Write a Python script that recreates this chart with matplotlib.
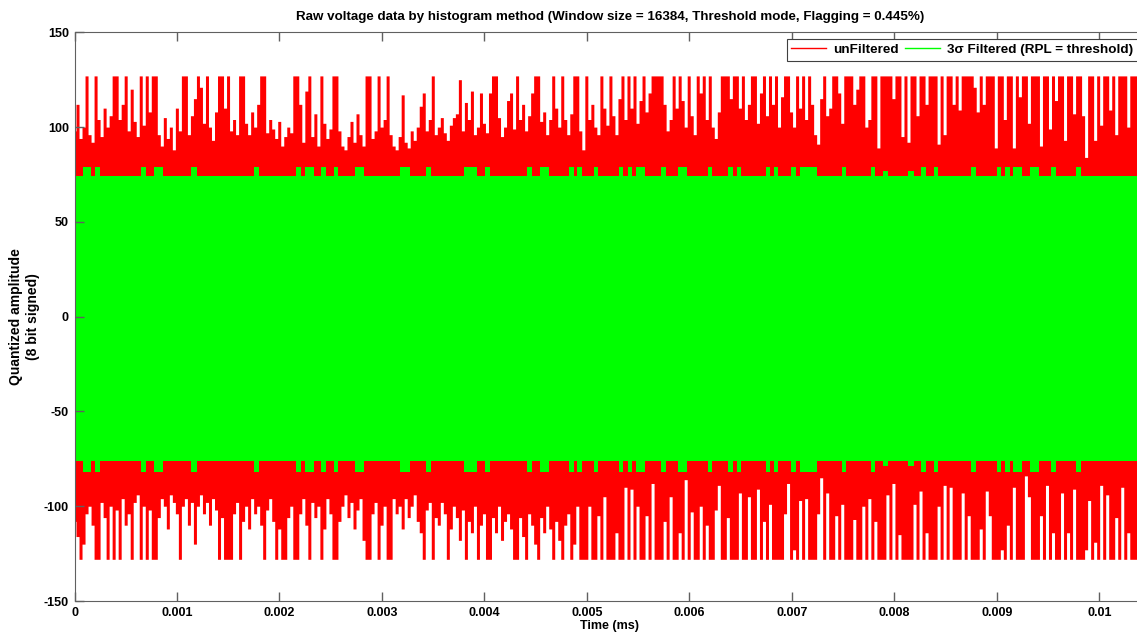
import numpy as np
import matplotlib.pyplot as plt
from matplotlib.lines import Line2D

plt.rcParams['font.family'] = ['Liberation Sans', 'DejaVu Sans']
plt.rcParams['font.weight'] = 'bold'
plt.rcParams['font.size'] = 9
plt.rcParams['axes.unicode_minus'] = False

# visible end of the record (ms)
T_END = 0.01037

# unfiltered samples: max / min of each ~3 px screen column
unf_max = [
    98, 112, 94, 100, 127, 96, 92, 127, 104, 95,
    110, 100, 106, 127, 127, 104, 112, 127, 98, 120,
    103, 95, 127, 101, 127, 108, 127, 127, 96, 90,
    105, 94, 100, 88, 110, 98, 127, 127, 96, 106,
    115, 127, 121, 102, 127, 100, 93, 108, 127, 127,
    110, 127, 98, 104, 96, 127, 127, 102, 96, 108,
    100, 112, 127, 127, 97, 104, 99, 94, 103, 90,
    95, 100, 97, 127, 127, 112, 92, 119, 127, 95,
    107, 90, 127, 102, 94, 99, 127, 127, 98, 90,
    88, 95, 103, 92, 107, 96, 90, 127, 127, 94,
    98, 127, 100, 104, 127, 96, 90, 88, 95, 117,
    92, 89, 98, 93, 100, 111, 118, 98, 104, 127,
    96, 100, 105, 97, 93, 101, 105, 107, 125, 98,
    113, 104, 119, 96, 100, 118, 102, 97, 118, 127,
    127, 105, 95, 100, 114, 118, 99, 127, 104, 112,
    98, 106, 118, 127, 127, 103, 108, 96, 104, 127,
    110, 100, 127, 104, 96, 107, 127, 127, 98, 88,
    127, 104, 112, 100, 96, 127, 110, 101, 127, 106,
    96, 115, 127, 104, 127, 110, 127, 102, 114, 127,
    108, 118, 127, 127, 127, 127, 112, 98, 104, 127,
    110, 127, 114, 100, 127, 106, 96, 127, 118, 127,
    104, 127, 100, 94, 108, 127, 127, 127, 115, 127,
    127, 110, 127, 104, 112, 127, 127, 102, 118, 127,
    106, 127, 112, 127, 100, 116, 127, 127, 108, 100,
    127, 110, 127, 104, 127, 112, 96, 91, 115, 127,
    106, 110, 127, 127, 118, 102, 127, 127, 127, 112,
    120, 127, 127, 100, 104, 127, 127, 89, 127, 127,
    127, 127, 115, 127, 127, 95, 127, 92, 127, 127,
    106, 127, 127, 112, 127, 127, 127, 91, 127, 96,
    127, 127, 112, 127, 109, 127, 127, 127, 127, 121,
    108, 127, 112, 127, 127, 127, 89, 127, 127, 104,
    127, 127, 89, 127, 116, 127, 127, 102, 127, 127,
    127, 90, 127, 127, 99, 127, 114, 127, 127, 93,
    127, 127, 107, 127, 127, 106, 84, 127, 127, 93,
    127, 101, 127, 127, 109, 127, 96, 127, 127, 127,
    100, 127, 127, 127,
]
unf_min = [
    -108, -116, -128, -120, -104, -100, -110, -128, -128, -98,
    -106, -128, -100, -128, -102, -128, -96, -110, -104, -128,
    -98, -94, -128, -100, -128, -102, -128, -128, -106, -96,
    -100, -112, -94, -98, -104, -128, -100, -96, -110, -98,
    -120, -100, -94, -104, -98, -110, -96, -102, -128, -106,
    -128, -128, -128, -104, -98, -128, -108, -100, -112, -96,
    -104, -100, -110, -128, -102, -96, -108, -128, -112, -128,
    -128, -106, -100, -128, -128, -104, -96, -110, -128, -98,
    -106, -100, -128, -112, -96, -104, -128, -128, -108, -100,
    -94, -106, -98, -112, -102, -96, -118, -128, -128, -104,
    -98, -128, -110, -100, -128, -128, -96, -104, -100, -112,
    -96, -106, -100, -94, -108, -114, -128, -102, -98, -128,
    -106, -110, -98, -104, -128, -112, -100, -106, -118, -102,
    -128, -108, -114, -100, -128, -110, -104, -128, -128, -106,
    -114, -100, -118, -108, -104, -112, -128, -128, -106, -116,
    -128, -104, -110, -120, -128, -106, -114, -100, -112, -128,
    -108, -118, -128, -110, -104, -128, -120, -100, -128, -128,
    -128, -100, -128, -128, -105, -128, -95, -128, -128, -128,
    -114, -128, -128, -90, -128, -91, -128, -100, -128, -128,
    -105, -128, -88, -128, -128, -128, -108, -128, -95, -128,
    -128, -114, -128, -86, -128, -103, -128, -128, -100, -128,
    -110, -128, -128, -102, -89, -128, -128, -106, -128, -128,
    -128, -93, -128, -128, -95, -128, -128, -91, -128, -108,
    -128, -99, -128, -128, -128, -128, -104, -88, -128, -123,
    -128, -97, -128, -96, -128, -128, -128, -104, -85, -128,
    -93, -128, -128, -105, -128, -99, -128, -128, -128, -107,
    -128, -128, -100, -128, -96, -128, -108, -128, -128, -128,
    -94, -128, -88, -128, -115, -128, -128, -128, -128, -99,
    -128, -92, -128, -114, -128, -128, -128, -100, -128, -89,
    -128, -90, -128, -128, -128, -93, -128, -105, -128, -128,
    -128, -112, -128, -92, -105, -128, -128, -128, -123, -128,
    -110, -128, -90, -128, -128, -128, -84, -95, -128, -128,
    -128, -105, -128, -89, -128, -114, -128, -128, -93, -128,
    -114, -128, -91, -128, -128, -128, -123, -97, -128, -119,
    -128, -89, -128, -94, -128, -128, -106, -128, -90, -128,
    -114, -128, -128, -128,
]

# 3-sigma filtered data: clip levels, raised in some windows
filt_top = 74
filt_bot = -76
notch_start = [0.080, 0.200, 0.649, 0.776, 1.137, 1.752, 2.162, 2.250, 2.406, 2.533,
               2.738, 3.177, 3.431, 3.805, 4.007, 4.417, 4.544, 4.827, 4.905, 5.071,
               5.315, 5.403, 5.481, 5.725, 5.891, 6.184, 6.379, 6.467, 6.750, 6.828,
               6.994, 7.082, 7.492, 7.772, 7.892, 8.133, 8.263, 8.383, 8.751, 9.001,
               9.083, 9.161, 9.326, 9.531, 9.775]
notch_end = [0.158, 0.249, 0.695, 0.861, 1.193, 1.801, 2.211, 2.341, 2.452, 2.575,
             2.826, 3.278, 3.477, 3.926, 4.056, 4.463, 4.625, 4.876, 4.954, 5.110,
             5.354, 5.442, 5.569, 5.773, 5.979, 6.223, 6.428, 6.506, 6.789, 6.867,
             7.043, 7.247, 7.531, 7.814, 7.938, 8.187, 8.304, 8.426, 8.800, 9.043,
             9.132, 9.246, 9.414, 9.577, 9.824]
notch_top = [79] * 34 + [77, 77] + [79] * 9
notch_bot = [-82] * 34 + [-79, -79] + [-82] * 9

t = np.linspace(0, T_END, len(unf_max))

fig = plt.figure(figsize=(11.37, 6.34), dpi=100)
# axes run a little past the right edge of the (cropped) figure
ax = fig.add_axes([74.5 / 1137, 33 / 634, 1071 / 1137, 568.7 / 634])

ax.fill_between(t, unf_min, unf_max, step='mid', color='#ff0000', lw=0)
ax.fill_between([0, T_END + 0.0001], filt_bot, filt_top, color='#00ff00', lw=0)
for s, e, hi, lo in zip(notch_start, notch_end, notch_top, notch_bot):
    ax.fill_between([s * 1e-3, e * 1e-3], filt_top, hi, color='#00ff00', lw=0)
    ax.fill_between([s * 1e-3, e * 1e-3], lo, filt_bot, color='#00ff00', lw=0)

ax.set_xlim(0, 0.01045)
ax.set_ylim(-150, 150)
ax.set_xticks(np.arange(0, 0.0101, 0.001))
ax.set_xticklabels(['0'] + ['%g' % v for v in np.arange(0.001, 0.0101, 0.001)])
ax.set_yticks([-150, -100, -50, 0, 50, 100, 150])
ax.tick_params(direction='in', length=6.5, width=1, color='#606060',
               top=True, right=True, labelsize=9, pad=4)
for sp in ax.spines.values():
    sp.set_color('#606060')

ax.set_title('Raw voltage data by histogram method (Window size = 16384, '
             'Threshold mode, Flagging = 0.445%)', fontsize=9.6, fontweight='bold', pad=9)
ax.set_xlabel('Time (ms)', fontsize=9, fontweight='bold', labelpad=1)
ax.set_ylabel('Quantized amplitude\n(8 bit signed)', fontsize=10, fontweight='bold',
              labelpad=3)

handles = [Line2D([], [], color='#ff0000', lw=1), Line2D([], [], color='#00ff00', lw=1)]
leg = ax.legend(handles, ['unFiltered', '3σ Filtered (RPL = threshold)'], ncol=2,
                loc='upper right', bbox_to_anchor=(1138 / 1137, 1 - 39 / 634),
                bbox_transform=fig.transFigure, fancybox=False, framealpha=1,
                edgecolor='#404040', fontsize=9.7, handlelength=2.6, handletextpad=0.5,
                columnspacing=0.5, borderpad=0.35, borderaxespad=0)
leg.get_frame().set_linewidth(0.8)

fig.savefig('out.png', dpi=100)
